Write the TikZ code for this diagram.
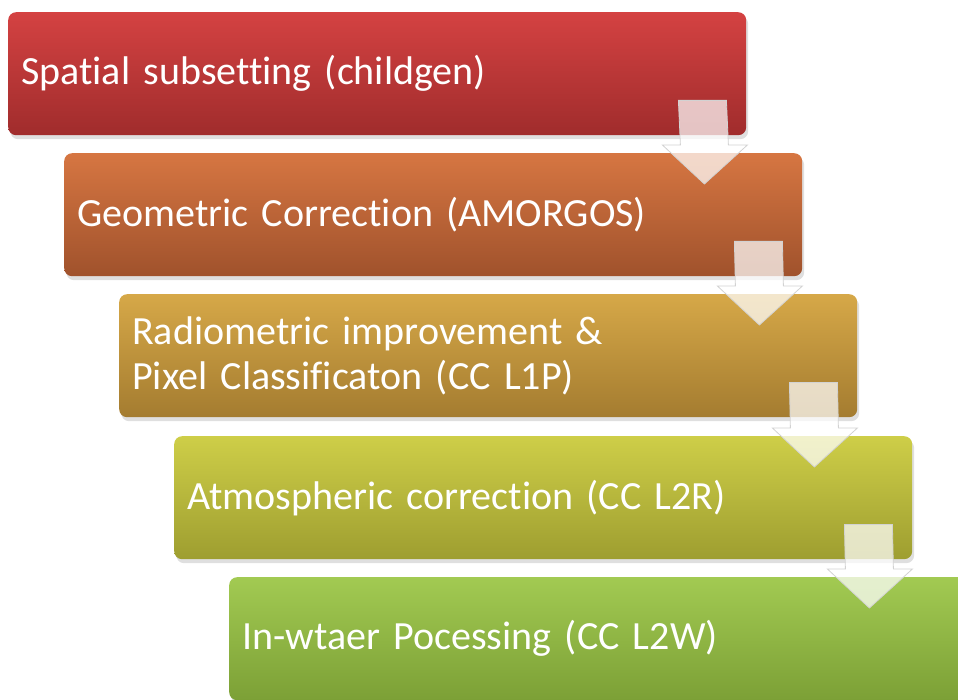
\documentclass[tikz,border=0pt]{standalone}
\usepackage{fontspec}
\setmainfont{Carlito}[Ligatures=NoCommon]
\usetikzlibrary{positioning,calc,shadows}

\definecolor{redtop}{RGB}{212,66,66}
\definecolor{redbot}{RGB}{160,44,44}
\definecolor{orgtop}{RGB}{214,118,66}
\definecolor{orgbot}{RGB}{160,82,44}
\definecolor{goldtop}{RGB}{214,168,72}
\definecolor{goldbot}{RGB}{164,124,48}
\definecolor{olivetop}{RGB}{206,206,72}
\definecolor{olivebot}{RGB}{158,158,48}
\definecolor{greentop}{RGB}{162,202,82}
\definecolor{greenbot}{RGB}{124,160,54}

\tikzset{
  stage/.style={rectangle, rounded corners=8pt, anchor=north west,
    minimum width=738pt, minimum height=123pt, text width=712pt,
    inner xsep=13pt, align=left, text=white,
    font=\fontsize{40}{45}\selectfont,
    drop shadow={opacity=.25, shadow xshift=2pt, shadow yshift=-4pt}},
  flowarrow/.style={fill=white, fill opacity=.72, draw=gray!35, line width=.8pt}
}

\begin{document}
\begin{tikzpicture}[x=1pt, y=-1pt]
    \useasboundingbox (0,0) rectangle (958,700);

    % the five processing stages
    \node[stage, top color=redtop, bottom color=redbot] (spatial) at (8,12)
      {Spatial subsetting (childgen)};
    \node[stage, top color=orgtop, bottom color=orgbot] (geometric) at (64,153)
      {Geometric Correction (AMORGOS)};
    \node[stage, top color=goldtop, bottom color=goldbot] (radiometric) at (119,294)
      {Radiometric improvement \&\\Pixel Classificaton (CC L1P)};
    \node[stage, top color=olivetop, bottom color=olivebot] (atmospheric) at (174,436)
      {Atmospheric correction (CC L2R)};
    \node[stage, top color=greentop, bottom color=greenbot] (inwater) at (229,577)
      {In-wtaer Pocessing (CC L2W)};

    % block arrows between stages
    \foreach \from/\to in {spatial/geometric, geometric/radiometric,
                           radiometric/atmospheric, atmospheric/inwater}
    \draw[flowarrow]
      ($(\from.south east)+(-68,-35)$) -- ($(\from.south east)+(-20,-35)$)
      -- ($(\to.north east)+(-74,-8)$) -- ($(\to.north east)+(-55,-8)$)
      -- ($(\to.north east)+(-98,31)$) -- ($(\to.north east)+(-140,-8)$)
      -- ($(\to.north east)+(-122,-8)$) -- cycle;
\end{tikzpicture}
\end{document}
